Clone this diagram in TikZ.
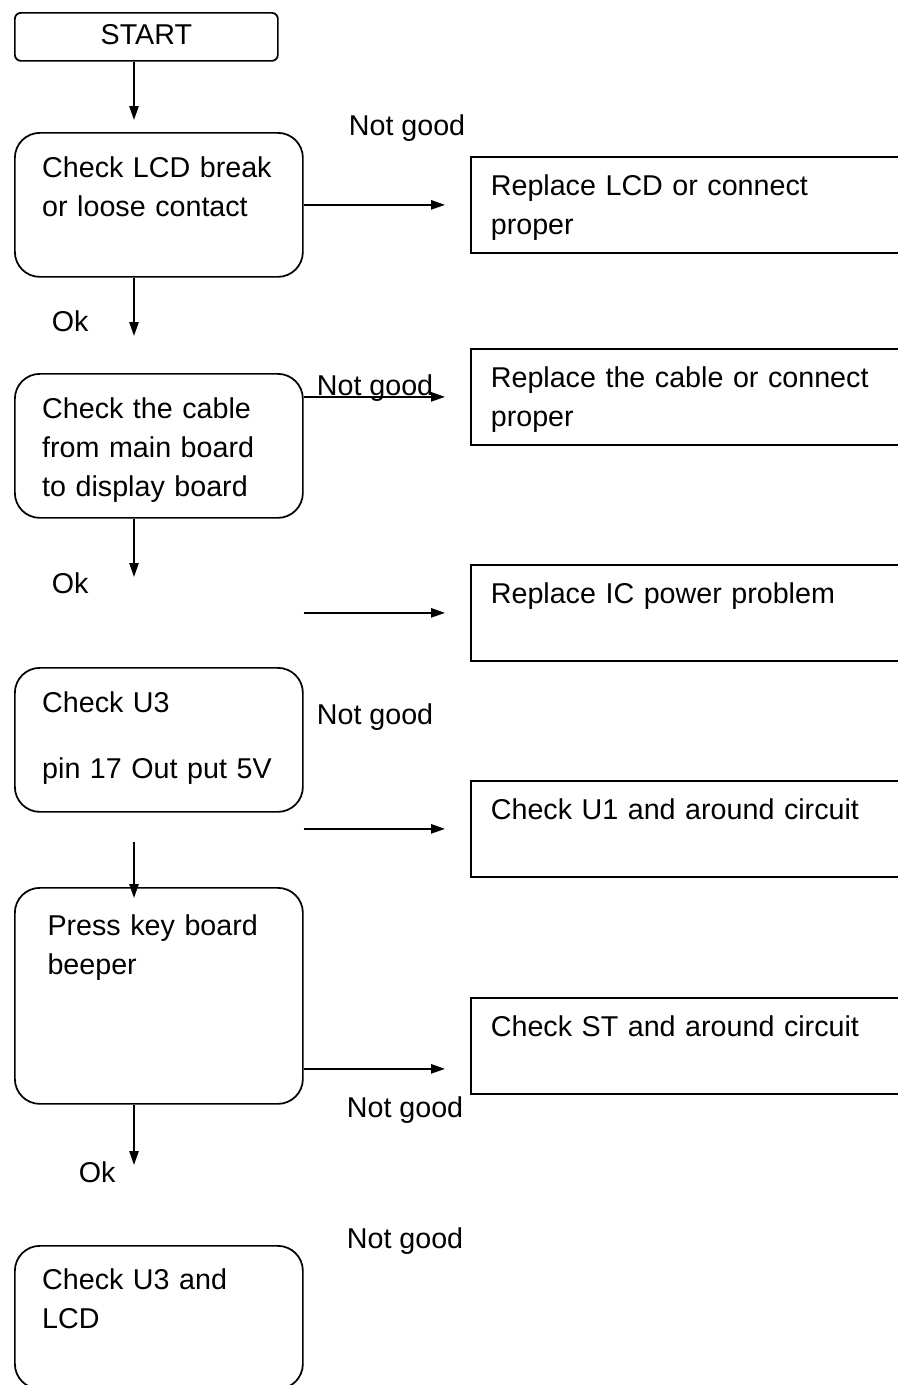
\documentclass[tikz,border=0pt]{standalone}
\usepackage{fontspec}
\setmainfont{Liberation Sans}
\usetikzlibrary{arrows.meta}

\begin{document}
\begin{tikzpicture}[
x=0.75pt,y=-0.75pt,
line width=1.3pt,
txt/.style={font=\fontsize{21.5pt}{29pt}\selectfont},
startbox/.style={txt,draw,rounded corners=4.5pt,anchor=north west,minimum width=197.25pt,inner ysep=0pt,text height=23.5pt,text depth=12.5pt},
box/.style={txt,draw,rounded corners=18.75pt,anchor=north west,minimum width=216pt,text width=175pt,align=left,inner ysep=0pt,text height=33.75pt,text depth=74.25pt},
action/.style={txt,draw,anchor=north west,minimum width=345pt,text width=315pt,align=left,inner ysep=0pt,text height=29pt,text depth=43pt},
lbl/.style={txt,anchor=base west,inner sep=0pt},
arrow/.style={-{Triangle[length=10.5pt,width=7pt]}},
]
\useasboundingbox (0,0) rectangle (898,1385);
\coordinate (spine) at (134,0);
% left column
\node[startbox] (start) at (14,12) {START};
\node[box] (lcd) at (14,132) {Check LCD break\\or loose contact};
\node[box] (cable) at (14,373) {Check the cable\\from main board\\to display board};
\node[box] (u3) at (14,667) {Check U3\\[20.5pt]pin 17 Out put 5V};
\node[box,text width=167pt,text height=36pt,text depth=126pt] (key) at (14,887) {Press key board\\beeper};
\node[box,text height=33pt] (lcdu3) at (14,1245) {Check U3 and\\LCD};
% right column
\node[action] (rlcd) at (470,156) {Replace LCD or connect\\proper};
\node[action] (rcable) at (470,348) {Replace the cable or connect\\proper};
\node[action] (rpower) at (470,564) {Replace IC power problem};
\node[action] (ru1) at (470,780) {Check U1 and around circuit};
\node[action] (rst) at (470,997) {Check ST and around circuit};
% labels
\node[lbl] (ng1) at (348,135) {Not good};
\node[lbl] (ok1) at (51,331) {Ok};
\node[lbl] (ok2) at (51,593) {Ok};
\node[lbl] (ng3) at (316,724) {Not good};
\node[lbl] (ng4) at (346,1117) {Not good};
\node[lbl] (ok3) at (78,1182) {Ok};
\node[lbl] (ng5) at (346,1248) {Not good};
% connectors
\draw[arrow,shorten >=9pt] (start.south -| spine) -- (lcd.north -| spine);
\draw[arrow,shorten >=18.75pt] (lcd.east) -- (lcd.east -| rlcd.west);
\draw[arrow,shorten >=27.75pt] (lcd.south -| spine) -- (cable.north -| spine);
\draw[arrow,shorten >=18.75pt] (rcable.west -| cable.east) -- (rcable.west);
\draw[arrow,shorten >=67.5pt] (cable.south -| spine) -- (u3.north -| spine);
\draw[arrow,shorten >=18.75pt] (rpower.west -| u3.east) -- (rpower.west);
\draw[arrow,shorten >=18.75pt] (ru1.west -| u3.east) -- (ru1.west);
\draw[arrow,shorten <=21.75pt,shorten >=-8.25pt] (u3.south -| spine) -- (key.north -| spine);
\path ([yshift=-54.75pt]key.east) coordinate (beep);
\draw[arrow,shorten >=18.75pt] (beep) -- (beep -| rst.west);
\draw[arrow,shorten >=60pt] (key.south -| spine) -- (lcdu3.north -| spine);
\node[lbl] (ng2) at (316,395) {Not good};
\end{tikzpicture}
\end{document}
